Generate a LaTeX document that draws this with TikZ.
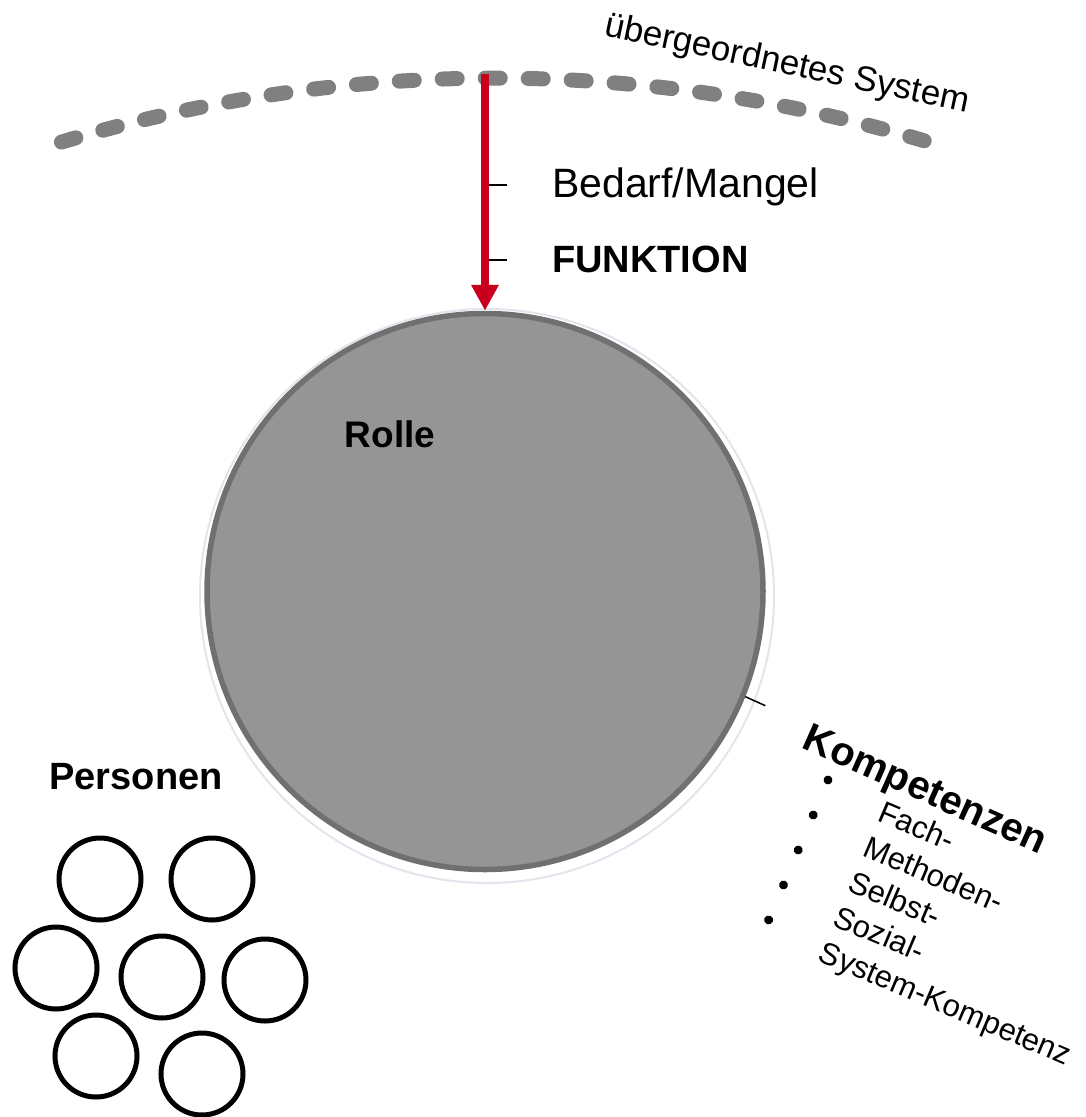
\documentclass[tikz,border=0pt]{standalone}
\usepackage{fontspec}
\setmainfont{Liberation Sans}
\usetikzlibrary{arrows.meta}

\definecolor{sysgray}{HTML}{808080}
\definecolor{rollefill}{HTML}{959595}
\definecolor{rolledraw}{HTML}{707070}
\definecolor{halo}{HTML}{E4E4EC}
\definecolor{needred}{HTML}{C8001E}

\newcommand{\fsz}[1]{\fontsize{#1}{#1}\selectfont}

\tikzset{
  person/.style={circle,draw=black,line width=5pt,minimum size=82pt,inner sep=0pt},
  lbl/.style={anchor=base west,inner sep=0pt},
  tick/.style={line width=1.5pt,black}
}

\begin{document}
\begin{tikzpicture}[x=1pt,y=-1pt]
    \useasboundingbox (0,0) rectangle (1086,1117);
    % superordinate system
    \draw[sysgray,line width=15pt,line cap=round,dash pattern=on 15pt off 28pt]
      (495,1578) ++(-106.8:1500) arc[start angle=-106.8,end angle=-73.2,radius=1500];
    \node[anchor=base,inner sep=0pt,rotate=-12,font=\fsz{35}] (sys) at (785,74) {übergeordnetes System};
    \coordinate (top) at (485,74);
    % role
    \node[circle,draw=halo,line width=2pt,minimum size=574pt] (halo) at (487,596) {};
    \node[circle,fill=rollefill,draw=rolledraw,line width=5.5pt,minimum size=556pt,inner sep=0pt] (rolle) at (485,591.5) {};
    \node[anchor=base,inner sep=0pt,font=\fsz{37}\bfseries] (rtxt) at (390,447) {Rolle};
    \draw[needred,line width=8pt,-{Triangle[width=26pt,length=26pt]}] (top) -- (rolle.north);
    % need / function
    \coordinate (t1) at (489,185);
    \coordinate (t2) at (489,260);
    \draw[tick] (t1) -- ++(18,0);
    \draw[tick] (t2) -- ++(18,0);
    \node[lbl,font=\fsz{41}] (bedarf) at (552,197) {Bedarf/Mangel};
    \node[lbl,font=\fsz{38}\bfseries] (funktion) at (552,272) {FUNKTION};
    % persons
    \node[anchor=base,inner sep=0pt,font=\fsz{38}\bfseries] (pers) at (136,789) {Personen};
    \foreach \px/\py [count=\i] in {100/879,212/879,56/968,162/977,265/980,96/1056,202/1074}
      \node[person] (p\i) at (\px,\py) {};
    % competences
    \draw[tick] (rolle.-22) -- ++(20,9);
    \begin{scope}[shift={(828,780)},rotate=-23]
      \node[lbl,rotate=-24,font=\fsz{40}\bfseries] (komp) at (-38,-19) {Kompetenzen};
      \foreach \t [count=\i from 0] in {Fach-,Methoden-,Selbst-,Sozial-,System-Kompetenz} {
        \fill (0,38*\i) circle (4.5);
        \node[lbl,rotate=-23,font=\fsz{31}] (k\i) at (60,38*\i+18) {\t};
      }
    \end{scope}
  \end{tikzpicture}
\end{document}
